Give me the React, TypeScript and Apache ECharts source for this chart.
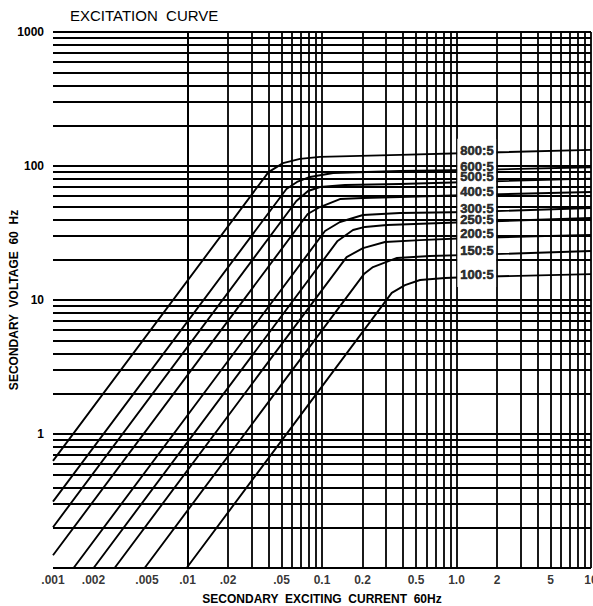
import React, { useEffect, useRef } from 'react';
import * as echarts from 'echarts';

const FONT = "'Liberation Sans', Arial, Helvetica, sans-serif";

// grid lines (log paper)
const xGridValues = [
  0.001, 0.002, 0.003, 0.004, 0.005, 0.006, 0.007, 0.008, 0.009,
  0.01, 0.02, 0.03, 0.04, 0.05, 0.06, 0.07, 0.08, 0.09,
  0.1, 0.2, 0.3, 0.4, 0.5, 0.6, 0.7, 0.8, 0.9,
  1, 2, 3, 4, 5, 6, 7, 8, 9, 10,
];
const yGridValues = [
  0.1, 0.2, 0.3, 0.4, 0.5, 0.6, 0.7, 0.8, 0.9,
  1, 2, 3, 4, 5, 6, 7, 8, 9,
  10, 20, 30, 40, 50, 60, 70, 80, 90,
  100, 200, 300, 400, 500, 600, 700, 800, 900, 1000,
];

// tick labels
const xTickValues = [0.001, 0.002, 0.005, 0.01, 0.02, 0.05, 0.1, 0.2, 0.5, 1, 2, 5, 10];
const xTickLabels = ['.001', '.002', '.005', '.01', '.02', '.05', '0.1', '0.2', '0.5', '1.0', '2', '5', '10'];
const yTickValues = [1, 10, 100, 1000];
const yTickLabels = ['1', '10', '100', '1000'];

// curves: [secondary exciting current (A), secondary voltage (V)]
const ratioNames = ['800:5', '600:5', '500:5', '400:5', '300:5', '250:5', '200:5', '150:5', '100:5'];
const curve800: [number, number][] = [[0.001, 0.63], [0.040, 90], [0.0513, 105], [0.0686, 113], [0.0966, 117], [0.38, 121], [1.26, 125], [10, 132]];
const curve600: [number, number][] = [[0.001, 0.3125], [0.0544, 67.3], [0.0652, 76], [0.0814, 82.8], [0.121, 88.7], [0.38, 91.8], [1.26, 93.3], [10, 98]];
const curve500: [number, number][] = [[0.001, 0.2016], [0.0645, 54.8], [0.0787, 65.1], [0.0966, 69.7], [0.148, 72.1], [0.38, 73.4], [1.26, 76.0], [10, 80.5]];
const curve400: [number, number][] = [[0.001, 0.1244], [0.0783, 43.8], [0.0966, 49.4], [0.136, 56.7], [0.2017, 57.7], [0.38, 58.7], [1.26, 60.8], [10, 64.0]];
const curve300: [number, number][] = [[0.001422, 0.1], [0.1053, 32.7], [0.136, 38.2], [0.2017, 43.1], [0.38, 44.6], [1.26, 45.4], [10, 48.6]];
const curve250: [number, number][] = [[0.002004, 0.1], [0.1306, 27.6], [0.170, 33.3], [0.2088, 35.1], [0.304, 36.3], [1.26, 38.2], [10, 40.9]];
const curve200: [number, number][] = [[0.00287, 0.1], [0.1524, 20.9], [0.2017, 24.4], [0.294, 27.1], [0.5355, 28.0], [1.26, 29.0], [10, 30.6]];
const curve150: [number, number][] = [[0.0048, 0.1], [0.205, 15.6], [0.2394, 17.6], [0.361, 20.6], [0.635, 21.3], [1.26, 21.7], [10, 23.2]];
const curve100: [number, number][] = [[0.00985, 0.1], [0.330, 11.3], [0.414, 12.9], [0.5355, 14.1], [0.821, 14.6], [1.26, 14.85], [10, 15.6]];
const curves = [curve800, curve600, curve500, curve400, curve300, curve250, curve200, curve150, curve100];

// curve labels and the blank column behind them
const labelCurrent = 1.42;
const labelVoltages = [130.5, 99.2, 83.5, 64.5, 48.2, 39.9, 31.6, 23.6, 15.4];
const gapCurrent = [1.015, 1.97];
const gapVoltage = [12.5, 160];

function App() {
  const ref = useRef<HTMLDivElement>(null);

  useEffect(() => {
    if (!ref.current) return;
    const chart = echarts.init(ref.current, null, { renderer: 'svg' });

    const axisFont = { fontFamily: FONT, fontSize: 12, fontWeight: 'bold' as const, color: '#000' };

    const option: any = {
      animation: false,
      backgroundColor: '#fff',
      title: {
        text: 'EXCITATION  CURVE',
        left: 70,
        top: 8,
        padding: 0,
        textStyle: { fontFamily: FONT, fontSize: 15, fontWeight: 'normal', color: '#000' },
      },
      grid: { left: 53, right: 2, top: 32, bottom: 38, containLabel: false, outerBoundsMode: 'none' },
      xAxis: {
        type: 'log',
        logBase: 10,
        min: 0.001,
        max: 10,
        axisLine: { show: false },
        axisTick: { show: false },
        axisLabel: { show: false },
        splitLine: { show: false },
        name: 'SECONDARY  EXCITING  CURRENT  60Hz',
        nameLocation: 'middle',
        nameGap: 25,
        nameMoveOverlap: false,
        nameTextStyle: axisFont,
      },
      yAxis: {
        type: 'log',
        logBase: 10,
        min: 0.1,
        max: 1000,
        axisLine: { show: false },
        axisTick: { show: false },
        splitLine: { show: false },
        axisLabel: {
          ...axisFont,
          margin: 9,
          formatter: (v: number) => {
            const i = yTickValues.findIndex((t) => Math.abs(Math.log10(t) - Math.log10(v)) < 1e-6);
            return i >= 0 ? yTickLabels[i] : '';
          },
        },
        name: 'SECONDARY  VOLTAGE  60  Hz',
        nameLocation: 'middle',
        nameGap: 33,
        nameMoveOverlap: false,
        nameTextStyle: axisFont,
      },
      series: [
        {
          name: 'grid',
          type: 'line',
          data: [],
          silent: true,
          clip: false,
          markLine: {
            z: 1,
            silent: true,
            symbol: ['none', 'none'],
            label: { show: false },
            emphasis: { disabled: true },
            lineStyle: { type: 'solid', color: '#000', width: 1.8 },
            data: [
              ...xGridValues.map((v) => ({ xAxis: v })),
              ...yGridValues.map((v) => ({ yAxis: v })),
            ],
          },
        },
        ...curves.map((c, i) => ({
          name: ratioNames[i],
          type: 'line',
          data: c,
          z: 2,
          clip: false,
          silent: true,
          showSymbol: false,
          symbol: 'none',
          smooth: false,
          lineStyle: { color: '#000', width: 1.9, join: 'round' },
        })),
        {
          name: 'gap',
          type: 'line',
          data: [],
          silent: true,
          markArea: {
            z: 5,
            silent: true,
            itemStyle: { color: '#fff', borderWidth: 0 },
            label: { show: false },
            data: [[
              { xAxis: gapCurrent[0], yAxis: gapVoltage[0] },
              { xAxis: gapCurrent[1], yAxis: gapVoltage[1] },
            ]],
          },
        },
        {
          name: 'ratios',
          type: 'scatter',
          z: 10,
          silent: true,
          clip: false,
          symbolSize: 0,
          data: labelVoltages.map((v, i) => ({ value: [labelCurrent, v], name: ratioNames[i] })),
          label: {
            show: true,
            position: 'inside',
            formatter: '{b}',
            fontFamily: FONT,
            fontSize: 13,
            fontWeight: 'bold',
            color: '#000',
            textBorderColor: '#000',
            textBorderWidth: 0.6,
          },
        },
        {
          name: 'xticks',
          type: 'scatter',
          z: 10,
          silent: true,
          clip: false,
          symbolSize: 0,
          data: xTickValues.map((v, i) => ({ value: [v, 0.1], name: xTickLabels[i] })),
          label: {
            show: true,
            position: 'bottom',
            distance: 6,
            formatter: '{b}',
            ...axisFont,
          },
        },
      ],
    };

    chart.setOption(option);
    return () => chart.dispose();
  }, []);

  return (
    <div
      ref={ref}
      style={{ position: 'fixed', left: 0, top: 0, width: 593, height: 606, background: '#fff' }}
    />
  );
}

export default App;
